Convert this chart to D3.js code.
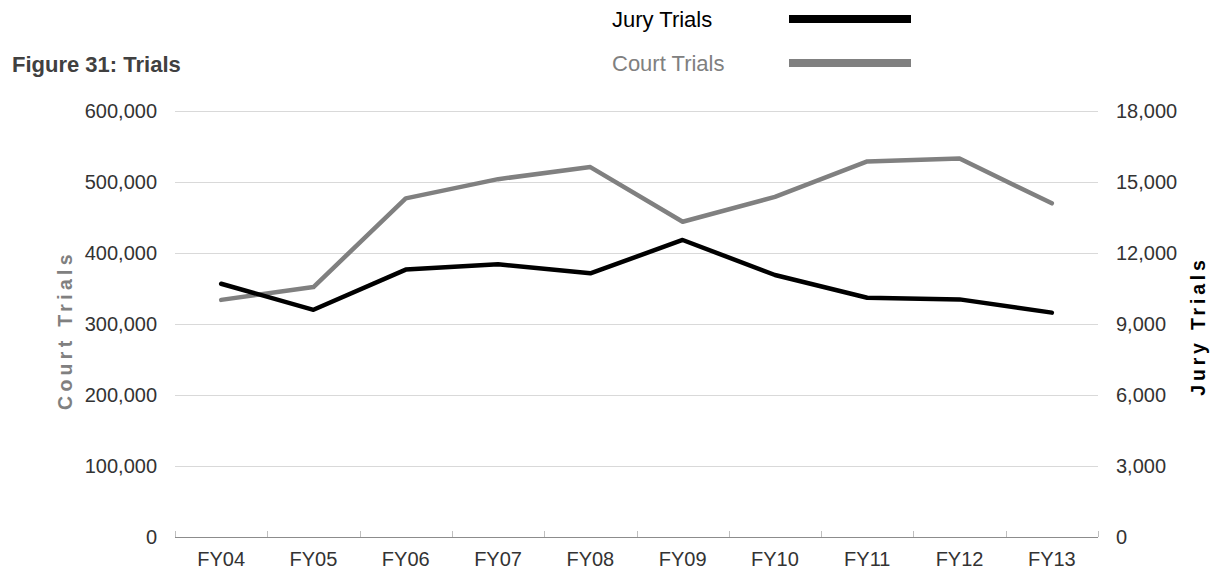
<!DOCTYPE html>
<html>
<head>
<meta charset="utf-8">
<script src="https://cdn.jsdelivr.net/npm/d3@7"></script>
<style>
  html, body { margin: 0; padding: 0; background: #fff; }
  svg { display: block; font-family: "Liberation Sans", Arial, sans-serif; }
</style>
</head>
<body>
<svg id="chart" width="1214" height="575"></svg>
<script>
// Fiscal years on the category axis
const categories = ["FY04", "FY05", "FY06", "FY07", "FY08", "FY09", "FY10", "FY11", "FY12", "FY13"];
// Court trials (left axis)
const courtTrials = [334000, 352000, 477000, 504000, 521000, 444000, 479000, 529000, 533000, 470000];
// Jury trials (right axis)
const juryTrials = [10700, 9600, 11300, 11520, 11140, 12550, 11070, 10110, 10040, 9480];
// Tick values for the two value axes
const leftTicks = [0, 100000, 200000, 300000, 400000, 500000, 600000];
const rightTicks = [0, 3000, 6000, 9000, 12000, 15000, 18000];

const svg = d3.select("#chart");
const plot = { left: 175, right: 1098, top: 111, bottom: 537 };

const x = d3.scaleBand().domain(categories).range([plot.left, plot.right]);
const yLeft = d3.scaleLinear().domain([0, 600000]).range([plot.bottom, plot.top]);
const yRight = d3.scaleLinear().domain([0, 18000]).range([plot.bottom, plot.top]);
const fmt = d3.format(",");

// Horizontal gridlines
svg.append("g")
  .selectAll("line")
  .data(leftTicks.filter(d => d > 0))
  .join("line")
  .attr("x1", plot.left).attr("x2", plot.right)
  .attr("y1", d => yLeft(d) + 0.5).attr("y2", d => yLeft(d) + 0.5)
  .attr("stroke", "#d9d9d9").attr("stroke-width", 1);

// Left axis (court trials)
const gLeft = svg.append("g")
  .attr("transform", `translate(${plot.left},0)`)
  .call(d3.axisLeft(yLeft).tickValues(leftTicks).tickFormat(fmt).tickSize(0).tickPadding(18));
gLeft.select(".domain").remove();

// Right axis (jury trials)
const gRight = svg.append("g")
  .attr("transform", `translate(${plot.right},0)`)
  .call(d3.axisRight(yRight).tickValues(rightTicks).tickFormat(fmt).tickSize(0).tickPadding(18));
gRight.select(".domain").remove();

// Bottom axis: labels centred on bands
const gBottom = svg.append("g")
  .attr("transform", `translate(0,${plot.bottom})`)
  .call(d3.axisBottom(x).tickSize(0).tickPadding(15));
gBottom.select(".domain").remove();

// Baseline and band separators
const axisColor = "#8c8c8c";
svg.append("line")
  .attr("x1", plot.left).attr("x2", plot.right)
  .attr("y1", plot.bottom + 0.5).attr("y2", plot.bottom + 0.5)
  .attr("stroke", axisColor).attr("stroke-width", 1.2);
const boundaries = categories.map(c => x(c)).concat([x.range()[1]]);
svg.append("g")
  .selectAll("line")
  .data(boundaries)
  .join("line")
  .attr("x1", d => Math.round(d) + 0.5).attr("x2", d => Math.round(d) + 0.5)
  .attr("y1", plot.bottom - 6).attr("y2", plot.bottom)
  .attr("stroke", "#bfbfbf").attr("stroke-width", 1);

svg.selectAll(".tick text")
  .attr("font-size", 20)
  .attr("fill", "#333")
  .attr("font-family", "'Liberation Sans', Arial, sans-serif");

// Series lines
const lineCourt = d3.line()
  .x((d, i) => x(categories[i]) + x.bandwidth() / 2)
  .y(d => yLeft(d));
const lineJury = d3.line()
  .x((d, i) => x(categories[i]) + x.bandwidth() / 2)
  .y(d => yRight(d));

svg.append("path")
  .datum(courtTrials)
  .attr("d", lineCourt)
  .attr("fill", "none")
  .attr("stroke", "#808080")
  .attr("stroke-width", 4.5)
  .attr("stroke-linejoin", "round")
  .attr("stroke-linecap", "round");

svg.append("path")
  .datum(juryTrials)
  .attr("d", lineJury)
  .attr("fill", "none")
  .attr("stroke", "#000")
  .attr("stroke-width", 4.5)
  .attr("stroke-linejoin", "round")
  .attr("stroke-linecap", "round");

// Title
svg.append("text")
  .attr("x", 12).attr("y", 72)
  .attr("font-size", 22)
  .attr("font-weight", "bold")
  .attr("fill", "#404040")
  .text("Figure 31: Trials");

// Axis titles
svg.append("text")
  .attr("transform", `translate(72,330) rotate(-90)`)
  .attr("text-anchor", "middle")
  .attr("font-size", 19.5)
  .attr("font-weight", "bold")
  .attr("letter-spacing", 4.3)
  .attr("fill", "#808080")
  .text("Court Trials");

svg.append("text")
  .attr("transform", `translate(1205,326) rotate(-90)`)
  .attr("text-anchor", "middle")
  .attr("font-size", 19.5)
  .attr("font-weight", "bold")
  .attr("letter-spacing", 3.8)
  .attr("fill", "#000")
  .text("Jury Trials");

// Legend
const legend = [
  { name: "Jury Trials", color: "#000", textColor: "#000", y: 19 },
  { name: "Court Trials", color: "#808080", textColor: "#808080", y: 63 }
];
const lg = svg.append("g");
lg.selectAll("text")
  .data(legend)
  .join("text")
  .attr("x", 612).attr("y", d => d.y + 8)
  .attr("font-size", 22)
  .attr("fill", d => d.textColor)
  .text(d => d.name);
lg.selectAll("line")
  .data(legend)
  .join("line")
  .attr("x1", 789).attr("x2", 911)
  .attr("y1", d => d.y).attr("y2", d => d.y)
  .attr("stroke", d => d.color)
  .attr("stroke-width", 8);
</script>
</body>
</html>
